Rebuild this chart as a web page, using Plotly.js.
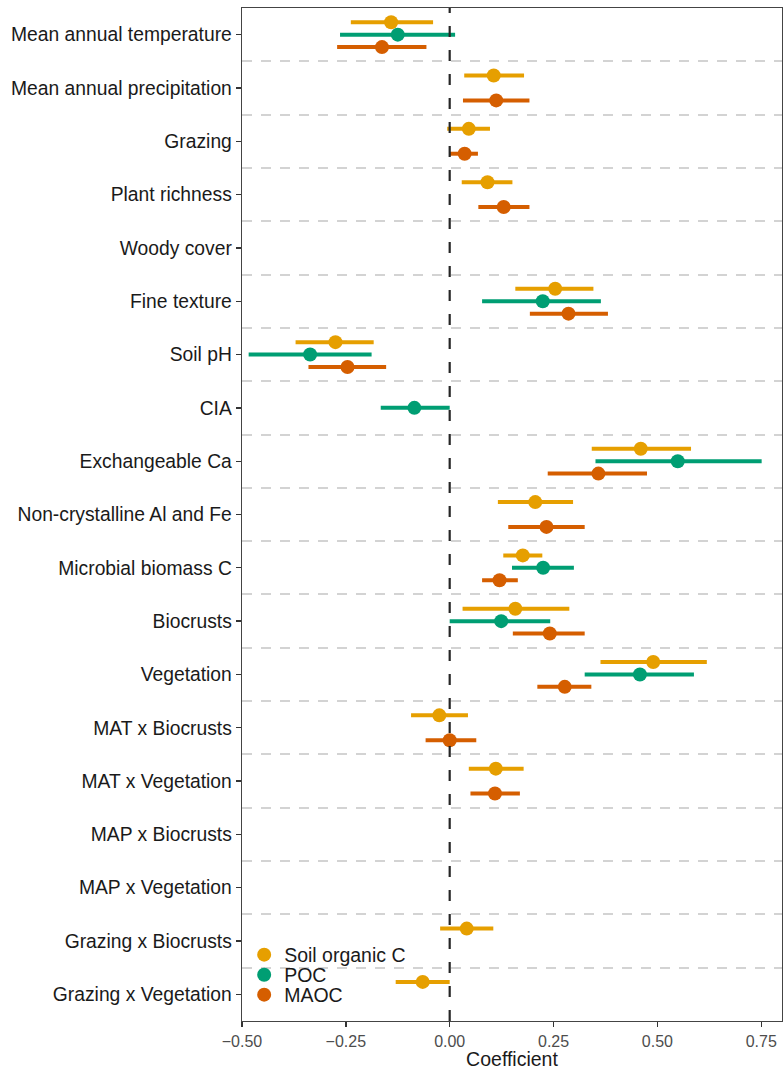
<!DOCTYPE html>
<html>
<head>
<meta charset="utf-8">
<script src="https://cdn.plot.ly/plotly-3.0.1.min.js"></script>
<style>
  html, body { margin: 0; padding: 0; background: #fff; }
  #chart { width: 783px; height: 1070px; }
</style>
</head>
<body>
<div id="chart"></div>
<script>
// Predictors, top to bottom
const predictors = [
  "Mean annual temperature", "Mean annual precipitation", "Grazing", "Plant richness",
  "Woody cover", "Fine texture", "Soil pH", "CIA", "Exchangeable Ca",
  "Non-crystalline Al and Fe", "Microbial biomass C", "Biocrusts", "Vegetation",
  "MAT x Biocrusts", "MAT x Vegetation", "MAP x Biocrusts", "MAP x Vegetation",
  "Grazing x Biocrusts", "Grazing x Vegetation"
];

// Soil organic C: estimate and interval bounds (null = not in model)
const socEst = [-0.141, 0.106, 0.046, 0.091, null, 0.254, -0.275, null, 0.460, 0.206, 0.176, 0.158, 0.490, -0.025, 0.111, null, null, 0.041, -0.065];
const socLow = [-0.238, 0.035, -0.006, 0.029, null, 0.158, -0.371, null, 0.342, 0.116, 0.129, 0.031, 0.363, -0.093, 0.046, null, null, -0.023, -0.130];
const socHigh = [-0.040, 0.179, 0.097, 0.151, null, 0.346, -0.183, null, 0.581, 0.297, 0.223, 0.288, 0.619, 0.044, 0.178, null, null, 0.105, 0.000];

// POC
const pocEst = [-0.125, null, null, null, null, 0.224, -0.336, -0.085, 0.549, null, 0.225, 0.124, 0.458, null, null, null, null, null, null];
const pocLow = [-0.264, null, null, null, null, 0.078, -0.484, -0.166, 0.351, null, 0.150, 0.000, 0.325, null, null, null, null, null, null];
const pocHigh = [0.013, null, null, null, null, 0.364, -0.188, 0.000, 0.751, null, 0.299, 0.242, 0.588, null, null, null, null, null, null];

// MAOC
const maocEst = [-0.163, 0.112, 0.036, 0.130, null, 0.286, -0.246, null, 0.358, 0.233, 0.120, 0.241, 0.277, 0.000, 0.109, null, null, null, null];
const maocLow = [-0.271, 0.032, 0.000, 0.069, null, 0.193, -0.340, null, 0.236, 0.141, 0.078, 0.152, 0.211, -0.058, 0.050, null, null, null, null];
const maocHigh = [-0.056, 0.192, 0.068, 0.192, null, 0.381, -0.153, null, 0.475, 0.325, 0.164, 0.325, 0.341, 0.064, 0.169, null, null, null, null];

const seriesNames = ["Soil organic C", "POC", "MAOC"];
const seriesColors = ["#E69F00", "#009E73", "#D55E00"];
const xTicks = [-0.5, -0.25, 0, 0.25, 0.5, 0.75];

// dodge: three slots per predictor
const dodge = [-0.233, 0, 0.233];
// one compact legend per series so the key rows sit close together
const legendIds = ["legend", "legend2", "legend3"];

function makeTrace(k, est, low, high) {
  const x = [], y = [], plus = [], minus = [];
  est.forEach((v, i) => {
    if (v === null) return;
    x.push(v);
    y.push(i + dodge[k]);
    plus.push(high[i] - v);
    minus.push(v - low[i]);
  });
  return {
    type: "scatter",
    mode: "markers",
    name: seriesNames[k],
    legend: legendIds[k],
    x: x, y: y,
    marker: { color: seriesColors[k], size: 14, line: { width: 0 } },
    error_x: {
      type: "data", symmetric: false, array: plus, arrayminus: minus,
      color: seriesColors[k], thickness: 4, width: 0
    },
    hoverinfo: "x+name"
  };
}

const traces = [
  makeTrace(0, socEst, socLow, socHigh),
  makeTrace(1, pocEst, pocLow, pocHigh),
  makeTrace(2, maocEst, maocLow, maocHigh)
];

const catIdx = predictors.map((_, i) => i);
const separators = predictors.map((_, i) => i + 0.5);

function legendAt(yPaper) {
  return {
    x: 0.004, y: yPaper, xanchor: "left", yanchor: "middle",
    bgcolor: "rgba(0,0,0,0)", borderwidth: 0,
    font: { size: 19.5, color: "#1a1a1a" },
    itemwidth: 30
  };
}

const layout = {
  width: 783, height: 1070,
  margin: { l: 242, r: 1, t: 8, b: 49 },
  paper_bgcolor: "#ffffff",
  plot_bgcolor: "#ffffff",
  font: { family: "Liberation Sans, Arial, sans-serif", color: "#1a1a1a" },
  showlegend: true,
  legend: legendAt(0.0652),
  legend2: legendAt(0.0454),
  legend3: legendAt(0.0257),
  xaxis: {
    range: [-0.5, 0.8],
    tickmode: "array", tickvals: xTicks,
    tickformat: ".2f",
    ticks: "outside", ticklen: 5, tickwidth: 1.3, tickcolor: "#333",
    tickfont: { size: 16, color: "#4d4d4d" },
    showgrid: false, zeroline: false,
    showline: true, mirror: true, linecolor: "#444", linewidth: 1.3,
    title: { text: "Coefficient", font: { size: 19.5, color: "#1a1a1a" }, standoff: 6 }
  },
  yaxis: {
    range: [18.5, -0.5],
    tickmode: "array", tickvals: catIdx, ticktext: predictors,
    ticks: "outside", ticklen: 5, tickwidth: 1.3, tickcolor: "#333",
    tickfont: { size: 19.3, color: "#1a1a1a" },
    showgrid: false, zeroline: false,
    showline: true, mirror: true, linecolor: "#444", linewidth: 1.3,
    minor: {
      tickmode: "array", tickvals: separators, ticks: "",
      showgrid: true, gridcolor: "#d3d3d3", gridwidth: 2, griddash: "10px,9px"
    }
  },
  shapes: [{
    type: "line", xref: "x", yref: "paper",
    x0: 0, x1: 0, y0: 0, y1: 1,
    line: { color: "#262626", width: 2.2, dash: "11px,13px" },
    layer: "above"
  }]
};

Plotly.newPlot("chart", traces, layout, { displayModeBar: false, staticPlot: true });
</script>
</body>
</html>
